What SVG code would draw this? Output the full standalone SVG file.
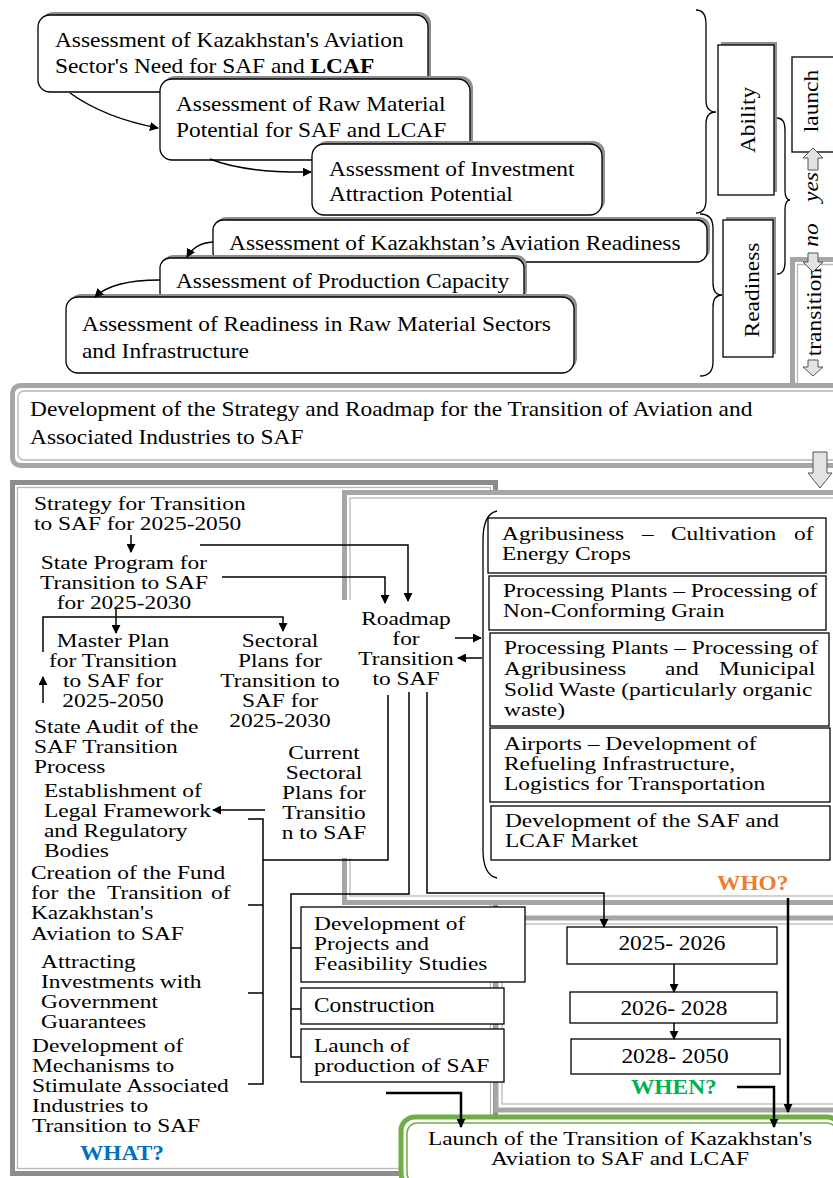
<svg xmlns="http://www.w3.org/2000/svg" width="833" height="1178" viewBox="0 0 833 1178">
<defs>
<style>
.t{font-family:"Liberation Serif","Times New Roman",serif;fill:#000}
.r{font-size:20px}
.s{font-size:18px}
.m{text-anchor:middle}
.i{font-style:italic}
.b{font-weight:bold}
.rb{fill:#fff;stroke:#000;stroke-width:1.3}
.sh{fill:#8f8f8f}
.bx{fill:#fff;stroke:#000;stroke-width:1.3}
.ln{fill:none;stroke:#000;stroke-width:1.5}
.lb{fill:none;stroke:#000;stroke-width:2.5}
.br{fill:none;stroke:#000;stroke-width:1.3}
.ba{fill:#e3e3e3;stroke:#555;stroke-width:1}
.fo{fill:#fff;stroke:#a6a6a6;stroke-width:5}
.fd{fill:#fff;stroke:#8c8c8c;stroke-width:5}
.fi{fill:none;stroke:#b8b8b8;stroke-width:1.3}
.fg{fill:#fff;stroke:#70AD47;stroke-width:5}
.fgi{fill:none;stroke:#70AD47;stroke-width:1.5}
</style>
<marker id="ah" viewBox="0 0 10 10" refX="9" refY="5" markerWidth="9" markerHeight="9" markerUnits="userSpaceOnUse" orient="auto"><path d="M0,0 L10,5 L0,10 z" fill="#000"/></marker>
</defs>
<rect x="0" y="0" width="833" height="1178" fill="#fff"/>

<!-- frames -->
<g id="frame-transition">
<path d="M845,259.5 H792.5 V384" fill="none" stroke="#a6a6a6" stroke-width="5"/>
<path d="M845,264.5 H797.5 V384" class="fi"/>
</g>
<g id="frame-strategy">
<rect class="fo" x="12.5" y="385.5" width="835" height="80" rx="8"/>
<rect class="fi" x="18" y="391" width="825" height="69" rx="6"/>
<text class="t r" transform="matrix(1.17 0 0 1 -5.1 0)"><tspan x="30" y="416">Development of the Strategy and Roadmap for the Transition of Aviation and</tspan><tspan x="30" y="444">Associated Industries to SAF</tspan></text>
</g>
<g id="frame-what">
<rect class="fd" x="12.5" y="482.5" width="483" height="691"/>
<rect class="fi" x="17.5" y="487.5" width="473" height="681"/>
</g>
<g id="frame-who">
<rect class="fo" x="344.5" y="492.5" width="500" height="410"/>
<rect class="fi" x="350" y="498" width="490" height="398"/>
</g>
<rect x="337" y="600" width="19" height="258" fill="#fff"/>
<g id="frame-when">
<rect class="fo" x="496" y="918" width="350" height="192"/>
<rect class="fi" x="502" y="924" width="340" height="180"/>
</g>
<g id="frame-launch">
<rect class="fg" x="401" y="1117" width="440" height="70" rx="14"/>
<rect class="fgi" x="407" y="1123" width="430" height="60" rx="10"/>
<text class="t s m" transform="matrix(1.3 0 0 1 -186 0)"><tspan x="620" y="1145.5">Launch of the Transition of Kazakhstan's</tspan><tspan x="620" y="1165.5">Aviation to SAF and LCAF</tspan></text>
</g>

<!-- top assessment boxes -->
<g id="box-need">
<rect class="sh" x="41" y="12" width="390" height="77" rx="12"/>
<rect class="rb" x="38" y="15" width="390" height="77" rx="12"/>
<text class="t r" transform="matrix(1.17 0 0 1 -9.35 0)"><tspan x="55" y="47">Assessment of Kazakhstan's Aviation</tspan><tspan x="55" y="73">Sector's Need for SAF and </tspan><tspan class="b">LCAF</tspan></text>
</g>
<g id="box-raw">
<rect class="sh" x="163" y="76" width="310" height="81" rx="12"/>
<rect class="rb" x="160" y="79" width="310" height="81" rx="12"/>
<text class="t r" transform="matrix(1.17 0 0 1 -29.92 0)"><tspan x="176" y="111">Assessment of Raw Material</tspan><tspan x="176" y="137">Potential for SAF and LCAF</tspan></text>
</g>
<g id="box-invest">
<rect class="sh" x="315" y="141" width="290" height="71" rx="12"/>
<rect class="rb" x="312" y="144" width="290" height="71" rx="12"/>
<text class="t r" transform="matrix(1.17 0 0 1 -55.93 0)"><tspan x="329" y="176">Assessment of Investment</tspan><tspan x="329" y="201">Attraction Potential</tspan></text>
</g>
<g id="box-aviation-readiness">
<rect class="sh" x="216" y="217" width="494" height="42" rx="10"/>
<rect class="rb" x="213" y="220" width="494" height="42" rx="10"/>
<text class="t r" transform="matrix(1.17 0 0 1 -38.93 0)" x="229" y="250">Assessment of Kazakhstan’s Aviation Readiness</text>
</g>
<g id="box-production">
<rect class="sh" x="163" y="255" width="364" height="45" rx="10"/>
<rect class="rb" x="160" y="258" width="364" height="45" rx="10"/>
<text class="t r" transform="matrix(1.17 0 0 1 -29.92 0)" x="176" y="288">Assessment of Production Capacity</text>
</g>
<g id="box-raw-readiness">
<rect class="sh" x="69" y="294" width="508" height="76" rx="12"/>
<rect class="rb" x="66" y="297" width="508" height="76" rx="12"/>
<text class="t r" transform="matrix(1.17 0 0 1 -13.94 0)"><tspan x="82" y="331">Assessment of Readiness in Raw Material Sectors</tspan><tspan x="82" y="358">and Infrastructure</tspan></text>
</g>

<!-- braces -->
<g id="braces">
<path class="br" d="M696,10 Q706,10 706,24 L706,100 Q706,112 716,112 Q706,112 706,124 L706,200 Q706,213 696,213"/>
<path class="br" d="M700,214 Q713,214 713,228 L713,283 Q713,295 722,295 Q713,295 713,307 L713,362 Q713,376 700,376"/>
<path class="br" d="M777,118 Q785,118 785,130 L785,190 Q785,200 790,200 Q785,200 785,210 L785,262 Q785,274 777,274"/>
<path class="br" d="M497,511 Q483,514 483,540 L483,850 Q483,875 497,878"/>
</g>

<!-- side labels -->
<g id="ability">
<rect class="sh" x="721" y="42" width="56" height="150"/>
<rect class="bx" x="718" y="45" width="56" height="150"/>
<text class="t r m" transform="translate(755,120) rotate(-90) scale(1.17,1)">Ability</text>
</g>
<g id="readiness">
<rect class="sh" x="726" y="217" width="50" height="137"/>
<rect class="bx" x="723" y="220" width="50" height="137"/>
<text class="t r m" transform="translate(759,290) rotate(-90) scale(1.17,1)">Readiness</text>
</g>
<g id="launch">
<rect class="bx" x="792" y="57" width="50" height="95"/>
<text class="t r m" transform="translate(818,101) rotate(-90) scale(1.17,1)">launch</text>
</g>
<g id="yes-no">
<text class="t r m i" transform="translate(818,187) rotate(-90) scale(1.17,1)">yes</text>
<text class="t r m i" transform="translate(818,235) rotate(-90) scale(1.17,1)">no</text>
<text class="t r m" transform="translate(821,312) rotate(-90) scale(1.17,1)">transition</text>
</g>
<g id="block-arrows">
<polygon class="ba" points="813,148 823,158 818,158 818,170 808,170 808,158 803,158"/>
<polygon class="ba" points="808,253 818,253 818,262 823,262 813,272 803,262 808,262"/>
<polygon class="ba" points="808,360 818,360 818,367 823,367 813,376 803,367 808,367"/>
<polygon class="ba" points="813,452 827,452 827,473 832,473 820,488 808,473 813,473"/>
</g>

<!-- WHAT column -->
<g id="strategy">
<text class="t s" transform="matrix(1.3 0 0 1 -10.2 0)"><tspan x="34" y="510">Strategy for Transition</tspan><tspan x="34" y="530">to SAF for 2025-2050</tspan></text>
</g>
<g id="state-program">
<text class="t s m" transform="matrix(1.3 0 0 1 -37.2 0)"><tspan x="124" y="569">State Program for</tspan><tspan x="124" y="589">Transition to SAF</tspan><tspan x="124" y="609">for 2025-2030</tspan></text>
</g>
<g id="master-plan">
<text class="t s m" transform="matrix(1.3 0 0 1 -33.9 0)"><tspan x="113" y="647">Master Plan</tspan><tspan x="113" y="667">for Transition</tspan><tspan x="113" y="687">to SAF for</tspan><tspan x="113" y="707">2025-2050</tspan></text>
</g>
<g id="sectoral-plans">
<text class="t s m" transform="matrix(1.3 0 0 1 -84 0)"><tspan x="280" y="647">Sectoral</tspan><tspan x="280" y="667">Plans for</tspan><tspan x="280" y="687">Transition to</tspan><tspan x="280" y="707">SAF for</tspan><tspan x="280" y="727">2025-2030</tspan></text>
</g>
<g id="roadmap">
<text class="t s m" transform="matrix(1.3 0 0 1 -121.8 0)"><tspan x="406" y="625">Roadmap</tspan><tspan x="406" y="645">for</tspan><tspan x="406" y="665">Transition</tspan><tspan x="406" y="685">to SAF</tspan></text>
</g>
<g id="state-audit">
<text class="t s" transform="matrix(1.3 0 0 1 -10.2 0)"><tspan x="34" y="733">State Audit of the</tspan><tspan x="34" y="753">SAF Transition</tspan><tspan x="34" y="773">Process</tspan></text>
</g>
<g id="current-sectoral">
<text class="t s m" transform="matrix(1.3 0 0 1 -97.2 0)"><tspan x="324" y="759">Current</tspan><tspan x="324" y="779">Sectoral</tspan><tspan x="324" y="799">Plans for</tspan><tspan x="324" y="819">Transitio</tspan><tspan x="324" y="839">n to SAF</tspan></text>
</g>
<g id="legal">
<text class="t s" transform="matrix(1.3 0 0 1 -13.2 0)"><tspan x="44" y="797">Establishment of</tspan><tspan x="44" y="817">Legal Framework</tspan><tspan x="44" y="837">and Regulatory</tspan><tspan x="44" y="857">Bodies</tspan></text>
</g>
<g id="fund">
<text class="t s" transform="matrix(1.3 0 0 1 -9.3 0)"><tspan x="31" y="879">Creation of the Fund</tspan><tspan x="31" y="899">for</tspan><tspan x="58.7" y="899">the</tspan><tspan x="89.5" y="899">Transition</tspan><tspan x="169.5" y="899">of</tspan><tspan x="31" y="919">Kazakhstan's</tspan><tspan x="31" y="940">Aviation to SAF</tspan></text>
</g>
<g id="investments">
<text class="t s" transform="matrix(1.3 0 0 1 -12.3 0)"><tspan x="41" y="968">Attracting</tspan><tspan x="41" y="988">Investments with</tspan><tspan x="41" y="1008">Government</tspan><tspan x="41" y="1028">Guarantees</tspan></text>
</g>
<g id="mechanisms">
<text class="t s" transform="matrix(1.3 0 0 1 -9.6 0)"><tspan x="32" y="1052">Development of</tspan><tspan x="32" y="1072">Mechanisms to</tspan><tspan x="32" y="1092">Stimulate Associated</tspan><tspan x="32" y="1112">Industries to</tspan><tspan x="32" y="1132">Transition to SAF</tspan></text>
</g>
<text class="t r b m" transform="matrix(1.17 0 0 1 -20.74 0)" x="122" y="1160" style="fill:#0070C0">WHAT?</text>

<!-- WHO column -->
<g id="agri">
<rect class="bx" x="488" y="518" width="338" height="55"/>
<text class="t s" transform="matrix(1.3 0 0 1 -150.6 0)"><tspan x="502" y="540">Agribusiness</tspan><tspan x="609.7" y="540">–</tspan><tspan x="632" y="540">Cultivation</tspan><tspan x="726.6" y="540">of</tspan><tspan x="502" y="560">Energy Crops</tspan></text>
</g>
<g id="grain">
<rect class="bx" x="489" y="576" width="337" height="54"/>
<text class="t s" transform="matrix(1.3 0 0 1 -150.9 0)"><tspan x="503" y="597">Processing Plants – Processing of</tspan><tspan x="503" y="617">Non-Conforming Grain</tspan></text>
</g>
<g id="waste">
<rect class="bx" x="490" y="633" width="339" height="93"/>
<text class="t s" transform="matrix(1.3 0 0 1 -151.2 0)"><tspan x="504" y="654">Processing Plants – Processing of</tspan><tspan x="504" y="675">Agribusiness</tspan><tspan x="627.9" y="675">and</tspan><tspan x="669.4" y="675">Municipal</tspan><tspan x="504" y="696">Solid Waste (particularly organic</tspan><tspan x="504" y="716">waste)</tspan></text>
</g>
<g id="airports">
<rect class="bx" x="490" y="728" width="340" height="74"/>
<text class="t s" transform="matrix(1.3 0 0 1 -151.2 0)"><tspan x="504" y="750">Airports – Development of</tspan><tspan x="504" y="770">Refueling Infrastructure,</tspan><tspan x="504" y="790">Logistics for Transportation</tspan></text>
</g>
<g id="market">
<rect class="bx" x="491" y="806" width="339" height="54"/>
<text class="t s" transform="matrix(1.3 0 0 1 -151.5 0)"><tspan x="505" y="827">Development of the SAF and</tspan><tspan x="505" y="847">LCAF Market</tspan></text>
</g>
<text class="t r b" transform="matrix(1.17 0 0 1 -121.89 0)" x="717" y="890" style="fill:#ED7D31">WHO?</text>

<!-- projects -->
<g id="projects">
<rect class="bx" x="301" y="907" width="224" height="75"/>
<text class="t s" transform="matrix(1.3 0 0 1 -94.2 0)"><tspan x="314" y="930">Development of</tspan><tspan x="314" y="950">Projects and</tspan><tspan x="314" y="970">Feasibility Studies</tspan></text>
</g>
<g id="construction">
<rect class="bx" x="301" y="988" width="203" height="36"/>
<text class="t r" transform="matrix(1.17 0 0 1 -53.38 0)" x="314" y="1012">Construction</text>
</g>
<g id="production">
<rect class="bx" x="301" y="1029" width="203" height="53"/>
<text class="t s" transform="matrix(1.3 0 0 1 -94.2 0)"><tspan x="314" y="1052">Launch of</tspan><tspan x="314" y="1072">production of SAF</tspan></text>
</g>

<!-- WHEN -->
<g id="y2025">
<rect class="bx" x="567" y="927" width="210" height="37"/>
<text class="t r m" transform="matrix(1.17 0 0 1 -114.24 0)" x="672" y="950">2025- 2026</text>
</g>
<g id="y2026">
<rect class="bx" x="570" y="992" width="207" height="31"/>
<text class="t r m" transform="matrix(1.17 0 0 1 -114.58 0)" x="674" y="1015">2026- 2028</text>
</g>
<g id="y2028">
<rect class="bx" x="571" y="1039" width="209" height="35"/>
<text class="t r m" transform="matrix(1.17 0 0 1 -114.75 0)" x="675" y="1063">2028- 2050</text>
</g>
<text class="t r b" transform="matrix(1.17 0 0 1 -107.27 0)" x="631" y="1094" style="fill:#00B050">WHEN?</text>

<g id="connectors">
<path class="ln" d="M70,93 Q105,118 158,128" marker-end="url(#ah)"/>
<path class="ln" d="M210,159 Q245,173 311,172" marker-end="url(#ah)"/>
<path class="ln" d="M213,242 Q195,243 187,257" marker-end="url(#ah)"/>
<path class="ln" d="M160,280 Q112,280 95,297" marker-end="url(#ah)"/>
<path class="ln" d="M131,535 V552" marker-end="url(#ah)"/>
<path class="ln" d="M200,545 H408 V601" marker-end="url(#ah)"/>
<path class="ln" d="M222,577 H385 V603" marker-end="url(#ah)"/>
<path class="ln" d="M43,652 V617 H283 V631" marker-end="url(#ah)"/>
<path class="ln" d="M116,608 V633" marker-end="url(#ah)"/>
<path class="ln" d="M43,703 V677" marker-end="url(#ah)"/>
<path class="ln" d="M455,638 H481" marker-end="url(#ah)"/>
<path class="ln" d="M482,658 H458" marker-end="url(#ah)"/>
<path class="ln" d="M388,695 V860 H263"/>
<path class="ln" d="M248,819 H263 V1084 H248 M248,905 H263 M248,993 H263"/>
<path class="ln" d="M265,810 H213" marker-end="url(#ah)"/>
<path class="ln" d="M409,692 V894 H291 V1057 H301 M291,948 H301 M291,1009 H301"/>
<path class="ln" d="M427,692 V893 H604 V927" marker-end="url(#ah)"/>
<path class="ln" d="M674,964 V992" marker-end="url(#ah)"/>
<path class="ln" d="M674,1023 V1039" marker-end="url(#ah)"/>
<path class="lb" d="M788,898 V1112" marker-end="url(#ah)"/>
<path class="lb" d="M737,1087 H774 V1127" marker-end="url(#ah)"/>
<path class="lb" d="M386,1093 H461 V1127" marker-end="url(#ah)"/>
</g>
</svg>
